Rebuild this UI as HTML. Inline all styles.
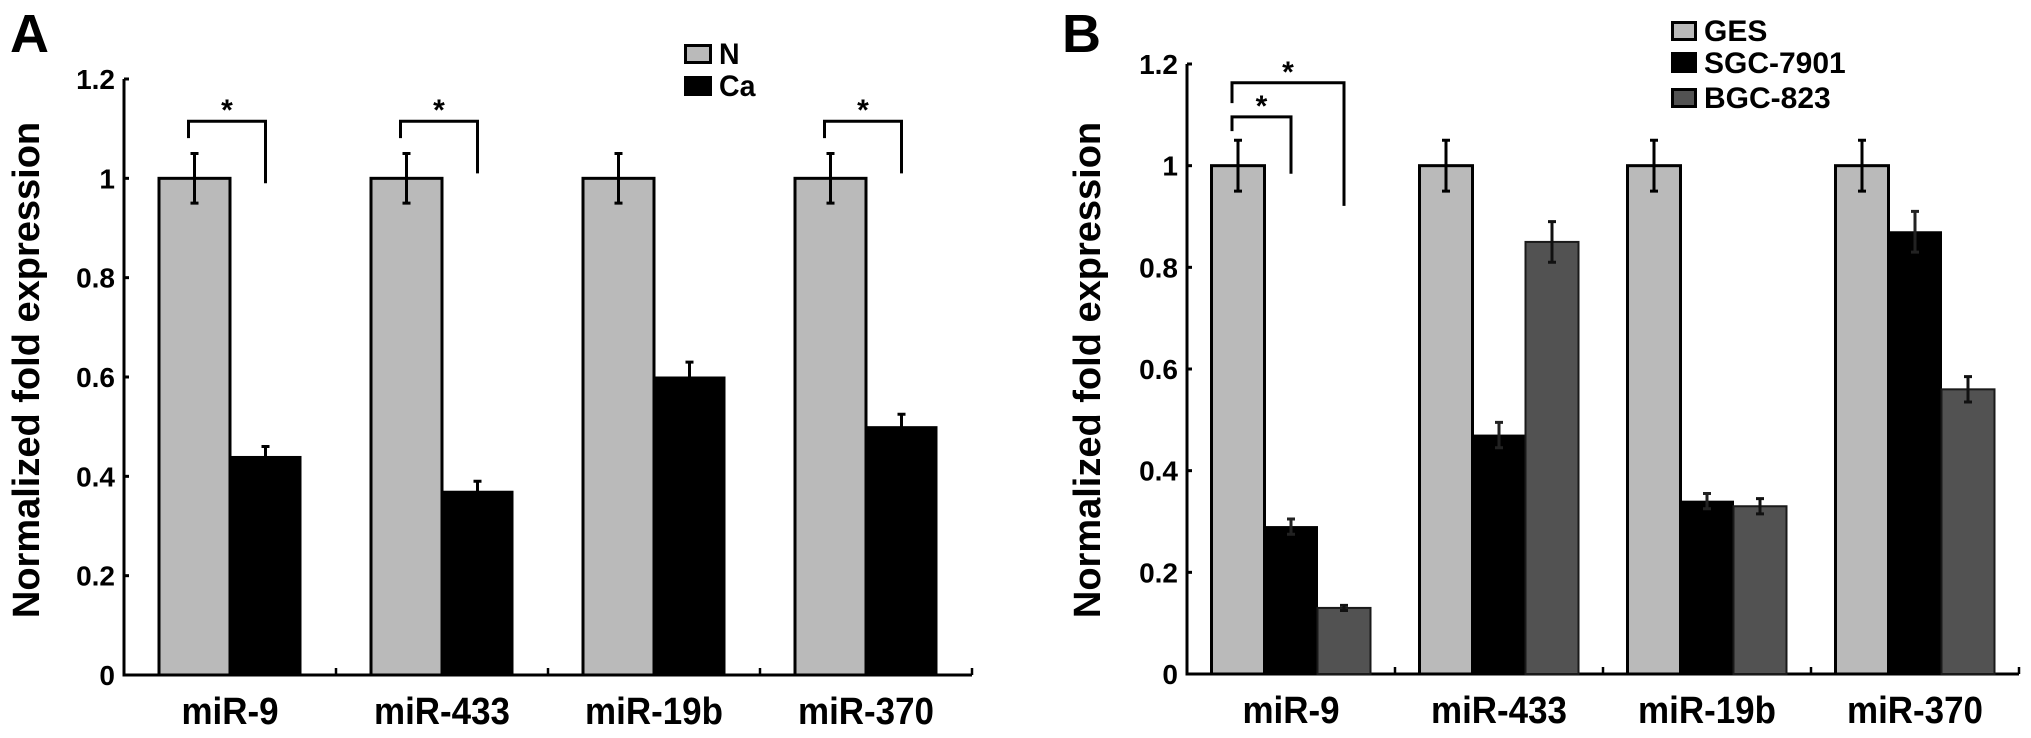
<!DOCTYPE html>
<html><head><meta charset="utf-8"><style>
html,body{margin:0;padding:0;background:#fff;}
svg{display:block;}
text{font-family:"Liberation Sans",Arial,sans-serif;font-weight:bold;fill:#000;}
</style></head><body>
<svg id="fig" width="2031" height="738" viewBox="0 0 2031 738" xmlns="http://www.w3.org/2000/svg"></svg>
<script>
const categories = ["miR-9","miR-433","miR-19b","miR-370"];
const yTicks = [0,0.2,0.4,0.6,0.8,1,1.2];
const yTickLabels = ["0","0.2","0.4","0.6","0.8","1","1.2"];
// Panel A
const seriesA = ["N","Ca"];
const valuesA_N = [1,1,1,1];
const errA_N = [0.05,0.05,0.05,0.05];
const valuesA_Ca = [0.44,0.37,0.60,0.50];
const errA_Ca = [0.02,0.02,0.03,0.025];
// Panel B
const seriesB = ["GES","SGC-7901","BGC-823"];
const valuesB_GES = [1,1,1,1];
const errB_GES = [0.05,0.05,0.05,0.05];
const valuesB_SGC = [0.29,0.47,0.34,0.87];
const errB_SGC = [0.015,0.025,0.015,0.04];
const valuesB_BGC = [0.13,0.85,0.33,0.56];
const errB_BGC = [0.005,0.04,0.015,0.025];

const NS="http://www.w3.org/2000/svg";
const svg=document.getElementById('fig');
function mk(tag,attrs,parent){const e=document.createElementNS(NS,tag);for(const k in attrs)e.setAttribute(k,attrs[k]);(parent||svg).appendChild(e);return e;}
function txt(s,x,y,size,anchor,sx,parent){
  const g=mk('g',{transform:`translate(${x},${y}) scale(${sx},1)`},parent);
  const t=mk('text',{x:0,y:0,'font-size':size,'text-anchor':anchor},g);
  t.textContent=s;return t;
}

function panel(cfg){
  const P=mk('g',{});
  
  
  const y=v=>cfg.y0-(cfg.y0-cfg.y12)*v/1.2;
  const gw=(cfg.x1-cfg.x0)/categories.length;
  const ax=mk('path',{d:`M${cfg.x0},${y(1.2)} L${cfg.x0},${cfg.y0} L${cfg.x1},${cfg.y0}`,stroke:'#000','stroke-width':3,fill:'none'},P);
  
  
  yTicks.forEach((v,i)=>{
    mk('line',{x1:cfg.x0,x2:cfg.x0+5,y1:y(v),y2:y(v),stroke:'#000','stroke-width':3},P);
    const t=txt(yTickLabels[i],cfg.x0-9,y(v)+10,28,'end',1,P);
    
    
  });
  for(let k=1;k<=categories.length;k++){
    mk('line',{x1:cfg.x0+gw*k,x2:cfg.x0+gw*k,y1:cfg.y0,y2:cfg.y0-7,stroke:'#000','stroke-width':2.5},P);
  }
  const ns=cfg.series.length;
  const off=(gw-cfg.bw*ns)/2;
  categories.forEach((c,i)=>{
    const gx=cfg.x0+gw*i;
    const lab=txt(c,gx+gw/2,cfg.y0+49,38,'middle',0.92,P);
    
    
    cfg.series.forEach((s,j)=>{
      const v=s.vals[i],e=s.err[i];
      const bx=gx+off+j*cfg.bw;
      const r=mk('rect',{x:bx,y:y(v),width:cfg.bw,height:cfg.y0-y(v),fill:s.fill,stroke:s.stroke,'stroke-width':s.sw},P);
      
      
      const cx=bx+cfg.bw/2;
      const eb=mk('path',{d:`M${cx},${y(v+e)} L${cx},${y(v-e)} M${cx-4},${y(v+e)} L${cx+4},${y(v+e)} M${cx-4},${y(v-e)} L${cx+4},${y(v-e)}`,stroke:s.ebc,'stroke-width':3,fill:'none'},P);
      
      
    });
  });
  cfg.brackets.forEach(b=>{
    const gx=cfg.x0+gw*b.g;
    const xa=gx+off+cfg.bw*b.a+cfg.bw/2-6, xb=gx+off+cfg.bw*b.b+cfg.bw/2;
    const br=mk('path',{d:`M${xa},${y(b.lb)} L${xa},${y(b.top)} L${xb},${y(b.top)} L${xb},${y(b.rb)}`,stroke:'#000','stroke-width':3,fill:'none'},P);
    
    
    const st=txt('*',(xa+xb)/2,y(b.top)-1,30,'middle',1,P);
    
    
  });
  const yt=mk('text',{x:0,y:0,'font-size':38,'text-anchor':'middle',transform:`translate(${cfg.titleX},${cfg.titleY}) rotate(-90)`},P);
  yt.textContent='Normalized fold expression';
  
  
  const pl=txt(cfg.letter,cfg.letterX,52,54,'start',1,P);
  
  
  cfg.series.forEach((s,j)=>{
    const L=cfg.legend[j];
    const lg=mk('g',{},P);
    
    
    mk('rect',{x:L.x+1.5,y:L.y+1.5,width:L.w-3,height:L.h-3,fill:s.fill,stroke:'#000','stroke-width':3},lg);
    txt(s.key,L.x+L.w+7,L.y+L.h,cfg.legendSize,'start',cfg.legendSx,lg);
  });
}

panel({name:'panel-a',letter:'A',letterX:10,x0:124,x1:972,y0:675,y12:79,bw:71,titleX:39,titleY:370,
  series:[
    {key:seriesA[0],vals:valuesA_N,err:errA_N,fill:'#bababa',stroke:'#000',sw:3,ebc:'#000'},
    {key:seriesA[1],vals:valuesA_Ca,err:errA_Ca,fill:'#000',stroke:'#000',sw:1,ebc:'#000'}],
  brackets:[{g:0,a:0,b:1,top:1.115,lb:1.081,rb:0.99},{g:1,a:0,b:1,top:1.115,lb:1.081,rb:1.01},{g:3,a:0,b:1,top:1.115,lb:1.081,rb:1.01}],
  legend:[{x:684,y:44,w:28,h:20},{x:684,y:76,w:28,h:20}],legendSize:30,legendSx:0.95});

panel({name:'panel-b',letter:'B',letterX:1062,x0:1187,x1:2019,y0:674,y12:64,bw:53,titleX:1100,titleY:370,
  series:[
    {key:seriesB[0],vals:valuesB_GES,err:errB_GES,fill:'#bababa',stroke:'#000',sw:3,ebc:'#000'},
    {key:seriesB[1],vals:valuesB_SGC,err:errB_SGC,fill:'#000',stroke:'#000',sw:1,ebc:'#222'},
    {key:seriesB[2],vals:valuesB_BGC,err:errB_BGC,fill:'#525252',stroke:'#1a1a1a',sw:2,ebc:'#111'}],
  brackets:[{g:0,a:0,b:1,top:1.096,lb:1.068,rb:0.984},{g:0,a:0,b:2,top:1.163,lb:1.123,rb:0.921}],
  legend:[{x:1671,y:21,w:26,h:20},{x:1671,y:52,w:26,h:21},{x:1671,y:88,w:26,h:20}],legendSize:30,legendSx:1});
</script>
</body></html>
